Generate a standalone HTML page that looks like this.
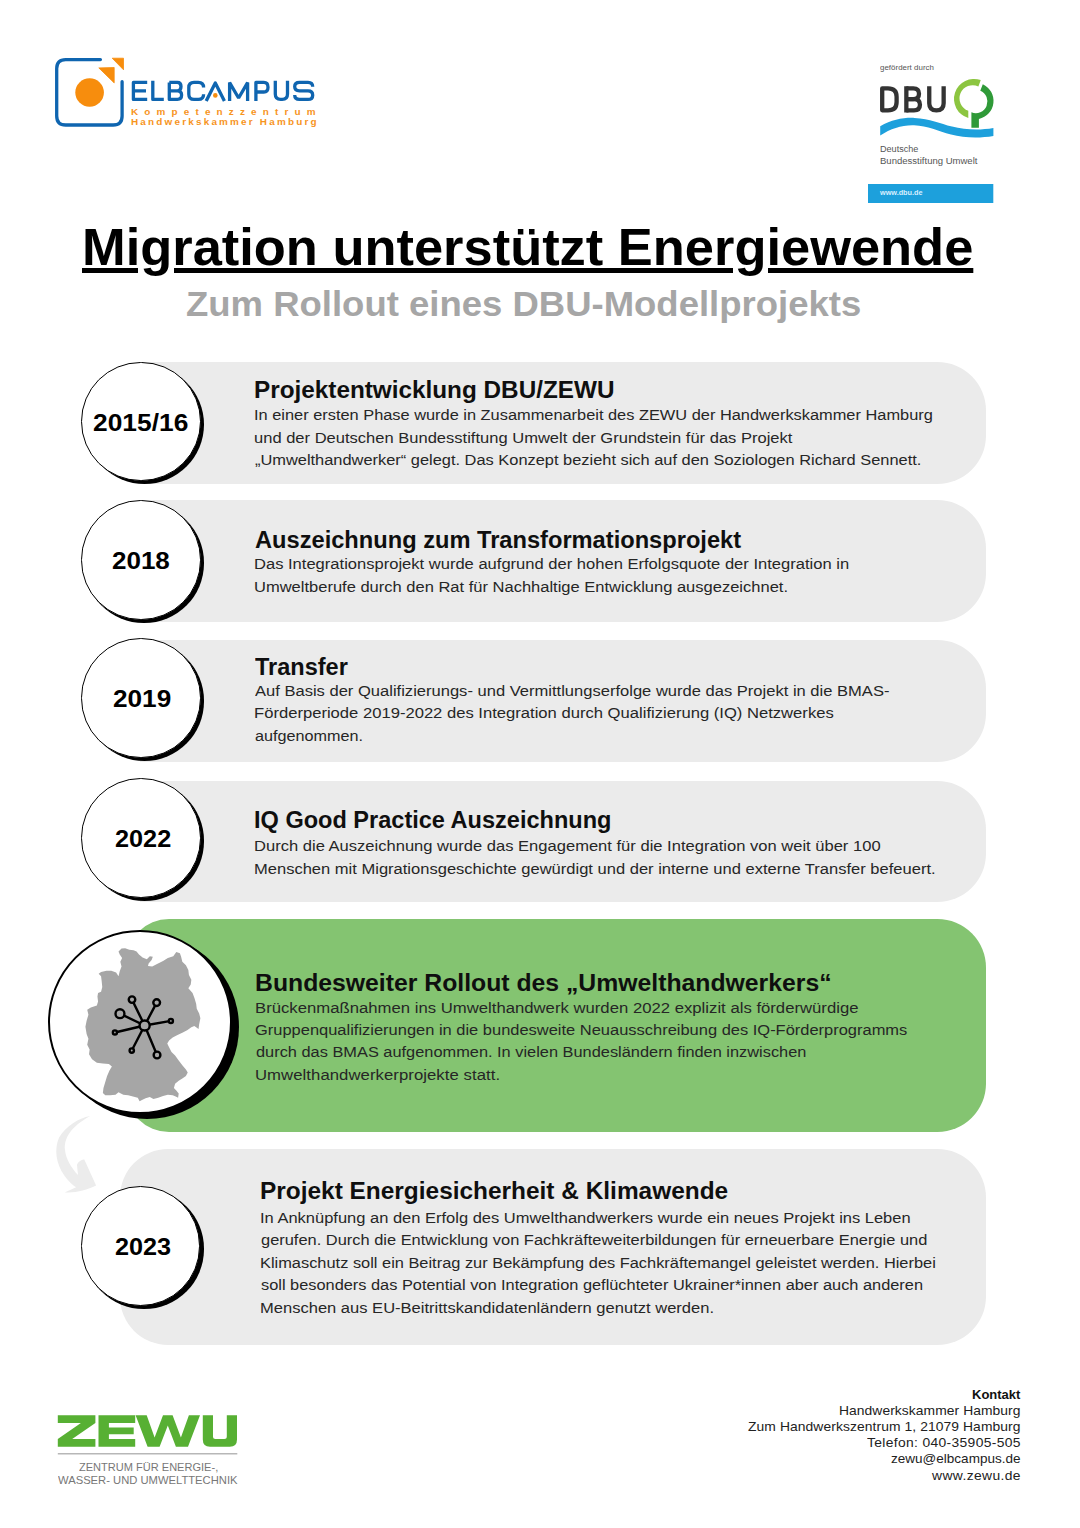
<!DOCTYPE html>
<html lang="de">
<head>
<meta charset="utf-8">
<title>Migration unterstützt Energiewende</title>
<style>
html,body{margin:0;padding:0;background:#fff;}
body{width:1080px;height:1528px;position:relative;overflow:hidden;font-family:"Liberation Sans",sans-serif;}
.t div{position:absolute;white-space:nowrap;line-height:1;transform-origin:0 50%;font-family:"Liberation Sans",sans-serif;}
.t .ttl{text-decoration:underline;text-decoration-thickness:4.8px;text-underline-offset:3px;text-decoration-skip-ink:auto;}
.bar{position:absolute;background:#ebebeb;}
.sh,.ci{position:absolute;border-radius:50%;box-sizing:border-box;}
.sh{background:#000;}
.ci{background:#fff;border:1.5px solid #000;}
svg{position:absolute;overflow:visible;}
</style>
</head>
<body>
<!-- timeline bars -->
<div class="bar" style="left:140px;top:362px;width:845.9px;height:122px;border-radius:0 48.5px 48.5px 0"></div>
<div class="bar" style="left:140px;top:500.3px;width:845.9px;height:122.2px;border-radius:0 48.5px 48.5px 0"></div>
<div class="bar" style="left:140px;top:640.4px;width:845.9px;height:121.8px;border-radius:0 48.5px 48.5px 0"></div>
<div class="bar" style="left:140px;top:780.5px;width:845.9px;height:121.8px;border-radius:0 48.5px 48.5px 0"></div>
<div class="bar" style="left:126px;top:919px;width:859.5px;height:212.5px;border-radius:43px 48.5px 48.5px 43px;background:#84c471"></div>
<div class="bar" style="left:119.5px;top:1149px;width:866px;height:196px;border-radius:48px 48.5px 48.5px 48px"></div>

<!-- curved arrow -->
<svg style="left:40px;top:1100px" width="120" height="110" viewBox="0 0 120 110">
  <path d="M50.2,16.1 C38.3,18.3 25.7,26.5 19.1,37.6 C13.9,49.4 16.1,64.3 24.3,75.4 C28,80.6 32.4,85 36.1,87.2 L24.6,92.4 C34.6,93.5 46.5,90.2 56.1,85.6 L44.3,59.4 C41.3,59.4 37.6,62 37,65 L38,75 C30.9,67.2 25.7,58.3 24.9,49.4 C24.3,38.3 30.2,27.2 50.2,16.1 Z" fill="#ececec"/>
</svg>

<!-- circles -->
<div class="sh" style="left:84.5px;top:364.8px;width:119.4px;height:119.4px"></div>
<div class="ci" style="left:81.3px;top:361.8px;width:119.4px;height:119.4px"></div>
<div class="sh" style="left:84.4px;top:503.4px;width:119.4px;height:119.4px"></div>
<div class="ci" style="left:81.2px;top:500.4px;width:119.4px;height:119.4px"></div>
<div class="sh" style="left:84.5px;top:641.2px;width:119.4px;height:119.4px"></div>
<div class="ci" style="left:81.3px;top:638.2px;width:119.4px;height:119.4px"></div>
<div class="sh" style="left:84.5px;top:781.2px;width:119.4px;height:119.4px"></div>
<div class="ci" style="left:81.3px;top:778.2px;width:119.4px;height:119.4px"></div>
<div class="sh" style="left:84.3px;top:1189.2px;width:119.4px;height:119.4px"></div>
<div class="ci" style="left:81.1px;top:1186.2px;width:119.4px;height:119.4px"></div>
<div class="sh" style="left:54.6px;top:935.2px;width:184px;height:184px"></div>
<div class="ci" style="left:48.3px;top:929.7px;width:184px;height:184px;border-width:2.3px"></div>

<!-- Germany map with network icon -->
<svg style="left:80px;top:940px" width="130" height="170" viewBox="0 0 1080 1412">
  <path fill="#a6a6a6" d="M345,70 L375,68 L410,80 L445,85 L470,95 L490,120 L520,145 L555,160 L580,135 L605,140 L595,165 L570,195 L565,215 L600,220 L640,200 L690,175 L730,150 L775,135 L800,100 L830,110 L840,140 L850,180 L880,210 L900,250 L905,290 L925,330 L920,370 L900,400 L935,440 L950,480 L965,530 L970,570 L990,610 L1000,650 L990,700 L985,740 L950,715 L925,725 L890,750 L850,770 L810,790 L770,810 L740,835 L725,860 L740,890 L760,930 L790,960 L820,1000 L850,1040 L880,1075 L895,1100 L880,1130 L850,1150 L820,1170 L790,1195 L780,1230 L800,1250 L820,1275 L815,1310 L795,1300 L770,1290 L730,1285 L690,1295 L650,1310 L610,1320 L580,1305 L545,1315 L515,1330 L495,1340 L480,1310 L440,1300 L400,1290 L360,1285 L320,1265 L295,1285 L250,1290 L210,1290 L190,1270 L195,1230 L210,1180 L225,1130 L245,1085 L265,1050 L240,1030 L190,1025 L140,1020 L100,990 L75,950 L80,910 L60,870 L70,820 L55,780 L45,720 L55,670 L70,620 L60,580 L90,560 L140,545 L150,510 L145,470 L150,440 L175,430 L185,390 L180,340 L175,300 L155,280 L175,265 L220,255 L260,255 L300,270 L320,300 L330,260 L345,220 L335,180 L350,150 L330,120 L320,95 Z"/>
  <g stroke="#000" stroke-width="20" fill="#a6a6a6" stroke-linecap="round">
    <path d="M537,710 L432,495 M537,710 L637,520 M537,710 L332,612 M537,710 L755,672 M537,710 L290,768 M537,710 L430,918 M537,710 L640,955" fill="none"/>
    <circle cx="537" cy="710" r="42"/>
    <circle cx="432" cy="495" r="27"/>
    <circle cx="637" cy="520" r="28"/>
    <circle cx="332" cy="612" r="37"/>
    <circle cx="755" cy="672" r="17"/>
    <circle cx="290" cy="768" r="17"/>
    <circle cx="430" cy="918" r="18"/>
    <circle cx="640" cy="955" r="28"/>
  </g>
</svg>

<!-- ELBCAMPUS logo -->
<svg style="left:40px;top:40px" width="300" height="110" viewBox="0 0 300 110">
  <path d="M82.1,41.7 L82.1,76 Q82.1,85 73.1,85 L25.7,85 Q16.7,85 16.7,76 L16.7,28.6 Q16.7,19.6 25.7,19.6 L60.4,19.6" fill="none" stroke="#0f65b0" stroke-width="3.3" stroke-linecap="round"/>
  <circle cx="49.6" cy="52.5" r="14.3" fill="#f78d0d"/>
  <path d="M58.8,27.9 L74.2,27.5 L74.2,42.9 Z" fill="#f78d0d" stroke="#f78d0d" stroke-width="0.8" stroke-linejoin="round"/>
  <path d="M72.2,18.2 L83.5,18.2 L83.5,29.8 Z" fill="#f78d0d" stroke="#f78d0d" stroke-width="0.8" stroke-linejoin="round"/>
  <g fill="none" stroke="#0f65b0" stroke-width="3.3" stroke-linejoin="round" stroke-linecap="butt">
    <path d="M107.2,42.4 L93.4,42.4 L93.4,59.4 L107.2,59.4 M93.4,50.9 L106,50.9"/>
    <path d="M112.8,40.7 L112.8,59.4 L123.8,59.4"/>
    <path d="M129.3,42.4 L129.3,59.4 L137.4,59.4 Q141.6,59.4 141.6,55.1 Q141.6,50.9 137.4,50.9 L129.3,50.9 M137.4,50.9 Q141,50.9 141,46.6 Q141,42.4 137.4,42.4 L129.3,42.4"/>
    <path d="M163.6,47.6 Q163.6,42.4 158.3,42.4 L154,42.4 Q148.8,42.4 148.8,47.6 L148.8,54.2 Q148.8,59.4 154,59.4 L158.3,59.4 Q163.6,59.4 163.6,54.2"/>
    <path d="M166.2,61.1 L175.3,42.9 L184.4,61.1" stroke-linejoin="round"/>
    <path d="M189.6,61.1 L189.6,42.6 L198.6,58 L207.6,42.6 L207.6,61.1" stroke-linejoin="bevel"/>
    <path d="M215.9,61.1 L215.9,42.4 L223.8,42.4 Q228,42.4 228,47.2 Q228,52 223.8,52 L215.9,52"/>
    <path d="M235.3,40.7 L235.3,54 Q235.3,59.4 240.6,59.4 L242.2,59.4 Q247.5,59.4 247.5,54 L247.5,40.7"/>
    <path d="M272.7,46.8 Q272.7,42.4 268,42.4 L259.5,42.4 Q254.7,42.4 254.7,46.6 Q254.7,50.9 259.5,50.9 L268,50.9 Q272.7,50.9 272.7,55.2 Q272.7,59.4 268,59.4 L259.5,59.4 Q254.7,59.4 254.7,55"/>
  </g>
  <circle cx="175.3" cy="55.4" r="2.3" fill="#f78d0d"/>
</svg>

<!-- DBU logo -->
<svg style="left:840px;top:40px" width="200" height="180" viewBox="0 0 200 180">
  <g fill="none" stroke="#333" stroke-width="4.3" stroke-linejoin="round" stroke-linecap="butt">
    <path d="M42.2,48.4 L42.2,70.35 L48,70.35 Q56.6,70.35 56.6,62 L56.6,56.8 Q56.6,48.4 48,48.4 Z"/>
    <path d="M66.35,46.25 L66.35,72.5"/>
    <path d="M66.35,48.4 L73.3,48.4 Q79,48.4 79,53.8 Q79,59.2 73.3,59.2 L66.35,59.2"/>
    <path d="M66.35,59.2 L74,59.2 Q79.95,59.2 79.95,64.8 Q79.95,70.35 74,70.35 L66.35,70.35"/>
    <path d="M89.25,46.25 L89.25,63.2 Q89.25,70.35 96.45,70.35 Q103.65,70.35 103.65,63.2 L103.65,46.25"/>
  </g>
  <!-- tree -->
  <path d="M140.74,40.1 A20,20 0 1 0 128.3,78.1 L128.3,70.85 A13.2,13.2 0 1 1 138.4,46.5 Z" fill="#8cc540"/>
  <path d="M142.78,44.17 A18.4,18.4 0 0 1 138.9,78.9 L138.9,87.8 L131.4,87.8 L131.4,72.3 A11.4,11.4 0 0 0 140.28,50.83 Z" fill="#2f9a38"/>
  <!-- wave -->
  <path d="M40.2,86.3 C52,79.5 63,77.5 74.5,77.9 C90,78.4 100,83.5 112,86.6 C125,90 140,90.5 153.4,88.1 L153.4,96 C140,98.3 124,98 111,94.6 C98,91 88,85.7 74,85.2 C62,84.8 51,88.5 40.2,95.4 Z" fill="#1da0dc"/>
  <rect x="28" y="144" width="125.3" height="19" fill="#1da0dc"/>
</svg>

<!-- ZEWU logo -->
<svg style="left:40px;top:1390px" width="240" height="120" viewBox="0 0 240 120">
  <g fill="#57b033">
    <path d="M17.8,25.2 L55.4,25.2 L55.4,33 L32.2,48.9 L55.4,48.9 L55.4,56.7 L17.8,56.7 L17.8,48.9 L40.9,33 L17.8,33 Z"/>
    <path d="M58.5,25.2 L95.2,25.2 L95.2,33 L68.9,33 L68.9,37.6 L93.7,37.6 L93.7,44.3 L68.9,44.3 L68.9,48.9 L95.2,48.9 L95.2,56.7 L58.5,56.7 Z"/>
    <path d="M95.6,25.2 L106.7,25.2 L114.6,47.4 L123,25.2 L132.6,25.2 L140.9,47.4 L148.9,25.2 L160,25.2 L148,56.7 L135.9,56.7 L127.8,35.4 L119.6,56.7 L107.6,56.7 Z"/>
    <path d="M162.8,25.2 L173,25.2 L173,46.4 Q173,48.9 175.5,48.9 L184.3,48.9 Q186.8,48.9 186.8,46.4 L186.8,25.2 L197,25.2 L197,49.5 Q197,56.7 189.8,56.7 L170,56.7 Q162.8,56.7 162.8,49.5 Z"/>
  </g>
  <rect x="17.8" y="63.4" width="179.5" height="0.9" fill="#888"/>
</svg>

<div class="t">
<div class="ttl" style="left:82.00px;top:221.0px;font-size:52px;font-weight:700;color:#000;transform:scaleX(1.0082)">Migration unterstützt Energiewende</div>
<div style="left:185.70px;top:286.7px;font-size:35.4px;font-weight:700;color:#a6a6a6;transform:scaleX(1.0312)">Zum Rollout eines DBU-Modellprojekts</div>
<div style="left:254.20px;top:379.4px;font-size:23.0px;font-weight:700;color:#0f0f0f;transform:scaleX(1.0566)">Projektentwicklung DBU/ZEWU</div>
<div style="left:254.00px;top:407.4px;font-size:15.2px;font-weight:400;color:#262626;transform:scaleX(1.0780)">In einer ersten Phase wurde in Zusammenarbeit des ZEWU der Handwerkskammer Hamburg</div>
<div style="left:254.00px;top:429.6px;font-size:15.2px;font-weight:400;color:#262626;transform:scaleX(1.0883)">und der Deutschen Bundesstiftung Umwelt der Grundstein für das Projekt</div>
<div style="left:255.00px;top:452.1px;font-size:15.2px;font-weight:400;color:#262626;transform:scaleX(1.0797)">„Umwelthandwerker“ gelegt. Das Konzept bezieht sich auf den Soziologen Richard Sennett.</div>
<div style="left:255.20px;top:528.9px;font-size:23.0px;font-weight:700;color:#0f0f0f;transform:scaleX(1.0280)">Auszeichnung zum Transformationsprojekt</div>
<div style="left:254.00px;top:556.0px;font-size:15.2px;font-weight:400;color:#262626;transform:scaleX(1.0894)">Das Integrationsprojekt wurde aufgrund der hohen Erfolgsquote der Integration in</div>
<div style="left:254.00px;top:578.7px;font-size:15.2px;font-weight:400;color:#262626;transform:scaleX(1.0868)">Umweltberufe durch den Rat für Nachhaltige Entwicklung ausgezeichnet.</div>
<div style="left:255.20px;top:656.4px;font-size:23.0px;font-weight:700;color:#0f0f0f;transform:scaleX(1.0226)">Transfer</div>
<div style="left:255.00px;top:682.5px;font-size:15.2px;font-weight:400;color:#262626;transform:scaleX(1.0892)">Auf Basis der Qualifizierungs- und Vermittlungserfolge wurde das Projekt in die BMAS-</div>
<div style="left:254.00px;top:705.3px;font-size:15.2px;font-weight:400;color:#262626;transform:scaleX(1.0935)">Förderperiode 2019-2022 des Integration durch Qualifizierung (IQ) Netzwerkes</div>
<div style="left:255.00px;top:727.7px;font-size:15.2px;font-weight:400;color:#262626;transform:scaleX(1.0659)">aufgenommen.</div>
<div style="left:254.20px;top:809.4px;font-size:23.0px;font-weight:700;color:#0f0f0f;transform:scaleX(1.0232)">IQ Good Practice Auszeichnung</div>
<div style="left:254.00px;top:837.9px;font-size:15.2px;font-weight:400;color:#262626;transform:scaleX(1.0898)">Durch die Auszeichnung wurde das Engagement für die Integration von weit über 100</div>
<div style="left:254.00px;top:861.1px;font-size:15.2px;font-weight:400;color:#262626;transform:scaleX(1.0881)">Menschen mit Migrationsgeschichte gewürdigt und der interne und externe Transfer befeuert.</div>
<div style="left:255.00px;top:971.9px;font-size:23.0px;font-weight:700;color:#0f0f0f;transform:scaleX(1.0767)">Bundesweiter Rollout des „Umwelthandwerkers“</div>
<div style="left:255.00px;top:999.7px;font-size:15.2px;font-weight:400;color:#262626;transform:scaleX(1.0999)">Brückenmaßnahmen ins Umwelthandwerk wurden 2022 explizit als förderwürdige</div>
<div style="left:255.00px;top:1022.1px;font-size:15.2px;font-weight:400;color:#262626;transform:scaleX(1.0837)">Gruppenqualifizierungen in die bundesweite Neuausschreibung des IQ-Förderprogramms</div>
<div style="left:256.00px;top:1044.3px;font-size:15.2px;font-weight:400;color:#262626;transform:scaleX(1.0776)">durch das BMAS aufgenommen. In vielen Bundesländern finden inzwischen</div>
<div style="left:255.00px;top:1066.9px;font-size:15.2px;font-weight:400;color:#262626;letter-spacing:0.053px;transform:scaleX(1.1000)">Umwelthandwerkerprojekte statt.</div>
<div style="left:260.00px;top:1180.3px;font-size:23.0px;font-weight:700;color:#0f0f0f;transform:scaleX(1.0617)">Projekt Energiesicherheit &amp; Klimawende</div>
<div style="left:260.00px;top:1209.7px;font-size:15.2px;font-weight:400;color:#262626;transform:scaleX(1.0854)">In Anknüpfung an den Erfolg des Umwelthandwerkers wurde ein neues Projekt ins Leben</div>
<div style="left:261.00px;top:1232.0px;font-size:15.2px;font-weight:400;color:#262626;transform:scaleX(1.0811)">gerufen. Durch die Entwicklung von Fachkräfteweiterbildungen für erneuerbare Energie und</div>
<div style="left:260.00px;top:1254.9px;font-size:15.2px;font-weight:400;color:#262626;transform:scaleX(1.0789)">Klimaschutz soll ein Beitrag zur Bekämpfung des Fachkräftemangel geleistet werden. Hierbei</div>
<div style="left:261.00px;top:1277.3px;font-size:15.2px;font-weight:400;color:#262626;transform:scaleX(1.0770)">soll besonders das Potential von Integration geflüchteter Ukrainer*innen aber auch anderen</div>
<div style="left:260.00px;top:1299.7px;font-size:15.2px;font-weight:400;color:#262626;transform:scaleX(1.0886)">Menschen aus EU-Beitrittskandidatenländern genutzt werden.</div>
<div style="left:93.40px;top:410.8px;font-size:24.2px;font-weight:700;color:#000;transform:scaleX(1.0902)">2015/16</div>
<div style="left:112.20px;top:548.9px;font-size:24.2px;font-weight:700;color:#000;transform:scaleX(1.0748)">2018</div>
<div style="left:112.60px;top:686.8px;font-size:24.2px;font-weight:700;color:#000;transform:scaleX(1.0823)">2019</div>
<div style="left:114.60px;top:826.9px;font-size:24.2px;font-weight:700;color:#000;transform:scaleX(1.0449)">2022</div>
<div style="left:114.90px;top:1235.2px;font-size:24.2px;font-weight:700;color:#000;transform:scaleX(1.0428)">2023</div>
<div style="left:972.10px;top:1388.6px;font-size:12.6px;font-weight:700;color:#111;transform:scaleX(1.0331)">Kontakt</div>
<div style="left:839.00px;top:1404.9px;font-size:12.6px;font-weight:400;color:#222;letter-spacing:0.056px;transform:scaleX(1.1000)">Handwerkskammer Hamburg</div>
<div style="left:748.00px;top:1421.2px;font-size:12.6px;font-weight:400;color:#222;letter-spacing:0.076px;transform:scaleX(1.1000)">Zum Handwerkszentrum 1, 21079 Hamburg</div>
<div style="left:867.00px;top:1437.4px;font-size:12.6px;font-weight:400;color:#222;letter-spacing:0.310px;transform:scaleX(1.1000)">Telefon: 040-35905-505</div>
<div style="left:891.00px;top:1453.4px;font-size:12.6px;font-weight:400;color:#222;transform:scaleX(1.0739)">zewu@elbcampus.de</div>
<div style="left:932.00px;top:1469.6px;font-size:12.6px;font-weight:400;color:#222;letter-spacing:0.348px;transform:scaleX(1.1000)">www.zewu.de</div>
<div style="left:130.50px;top:108.1px;font-size:9.0px;font-weight:700;color:#f7941d;letter-spacing:5.615px;transform:scaleX(1.1000)">Kompetenzzentrum</div>
<div style="left:130.50px;top:117.8px;font-size:9.0px;font-weight:700;color:#f7941d;letter-spacing:2.005px;transform:scaleX(1.1000)">Handwerkskammer Hamburg</div>
<div style="left:880.20px;top:63.5px;font-size:7.2px;font-weight:400;color:#555;letter-spacing:0.019px;transform:scaleX(1.1000)">gefördert durch</div>
<div style="left:880.20px;top:145.2px;font-size:9.2px;font-weight:400;color:#555;transform:scaleX(0.9877)">Deutsche</div>
<div style="left:880.20px;top:156.5px;font-size:9.2px;font-weight:400;color:#555;transform:scaleX(1.0368)">Bundesstiftung Umwelt</div>
<div style="left:880.20px;top:189.3px;font-size:7.5px;font-weight:700;color:#d8efff;transform:scaleX(0.9672)">www.dbu.de</div>
<div style="left:79.00px;top:1461.7px;font-size:10.6px;font-weight:400;color:#777;transform:scaleX(1.0419)">ZENTRUM FÜR ENERGIE-,</div>
<div style="left:58.20px;top:1475.4px;font-size:10.6px;font-weight:400;color:#777;transform:scaleX(1.0591)">WASSER- UND UMWELTTECHNIK</div>
</div>
</body>
</html>
